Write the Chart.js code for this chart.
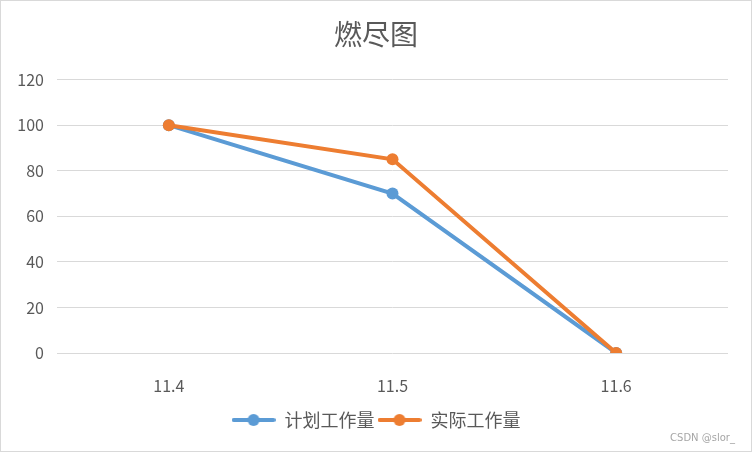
<!DOCTYPE html>
<html>
<head>
<meta charset="utf-8">
<script src="https://cdn.jsdelivr.net/npm/chart.js@4"></script>
<style>
  body { margin: 0; background: #fff; }
  #box { position: relative; width: 752px; height: 452px; box-sizing: border-box; border: 1px solid #d9d9d9; background: #fff; }
  #mark { position: absolute; right: 16px; bottom: 8px; font: 10px "DejaVu Sans", sans-serif; color: #a6a6a6; }
</style>
</head>
<body>
<div id="box">
  <canvas id="c" width="750" height="450"></canvas>
  <div id="mark">CSDN @slor_</div>
</div>
<script>
// 数据
const labels = ["11.4", "11.5", "11.6"];
const planned = [100, 70, 0];
const actual = [100, 85, 0];
const seriesNames = ["计划工作量", "实际工作量"];
const colors = ["#5B9BD5", "#ED7D31"];

const font = '"Noto Sans CJK SC", "Noto Sans", sans-serif';

// 图例：线 + 圆点
function legendIcon(color) {
    const cv = document.createElement("canvas");
    cv.width = 44; cv.height = 14;
    const g = cv.getContext("2d");
    g.strokeStyle = color;
    g.lineWidth = 4;
    g.lineCap = "round";
    g.beginPath(); g.moveTo(2, 7); g.lineTo(42, 7); g.stroke();
    g.fillStyle = color;
    g.beginPath(); g.arc(22, 7, 6, 0, Math.PI * 2); g.fill();
    return cv;
}
const icons = colors.map(legendIcon);

new Chart(document.getElementById("c"), {
    type: "line",
    data: {
        labels: labels,
        datasets: [
            { label: seriesNames[0], data: planned, borderColor: colors[0], backgroundColor: colors[0], order: 1 },
            { label: seriesNames[1], data: actual, borderColor: colors[1], backgroundColor: colors[1], order: 0 }
        ]
    },
    options: {
        responsive: false,
        animation: false,
        layout: { padding: { left: 0, right: 0, top: 0, bottom: 12 } },
        elements: {
            line: { borderWidth: 4, tension: 0 },
            point: { radius: 6, hoverRadius: 6, borderWidth: 0 }
        },
        plugins: {
            title: {
                display: true,
                text: "燃尽图",
                color: "#595959",
                font: { family: font, size: 28, weight: "normal" },
                padding: { top: 17, bottom: 28 }
            },
            legend: {
                position: "bottom",
                labels: {
                    usePointStyle: true,
                    pointStyleWidth: 44,
                    padding: 3,
                    color: "#595959",
                    font: { family: font, size: 18 },
                    generateLabels: () => seriesNames.map((n, i) => ({
                        text: n, pointStyle: icons[i], fillStyle: colors[i],
                        strokeStyle: colors[i], lineWidth: 0, datasetIndex: i, fontColor: "#595959"
                    }))
                }
            },
            tooltip: { enabled: false }
        },
        scales: {
            x: {
                offset: true,
                grid: { display: false },
                border: { display: false },
                ticks: { color: "#595959", font: { family: font, size: 16 }, padding: 15 },
                afterFit: s => { s.height = 55; }
            },
            y: {
                min: 0, max: 120,
                ticks: { stepSize: 20, color: "#595959", font: { family: font, size: 16 }, padding: 13 },
                grid: { color: "#d9d9d9", lineWidth: 1, drawTicks: false },
                border: { display: false },
                afterFit: s => { s.width = 56; }
            },
            // 右侧留白
            yRight: {
                position: "right",
                display: true,
                ticks: { display: false },
                grid: { display: false },
                border: { display: false },
                afterFit: s => { s.width = 23; }
            }
        }
    }
});
</script>
</body>
</html>
